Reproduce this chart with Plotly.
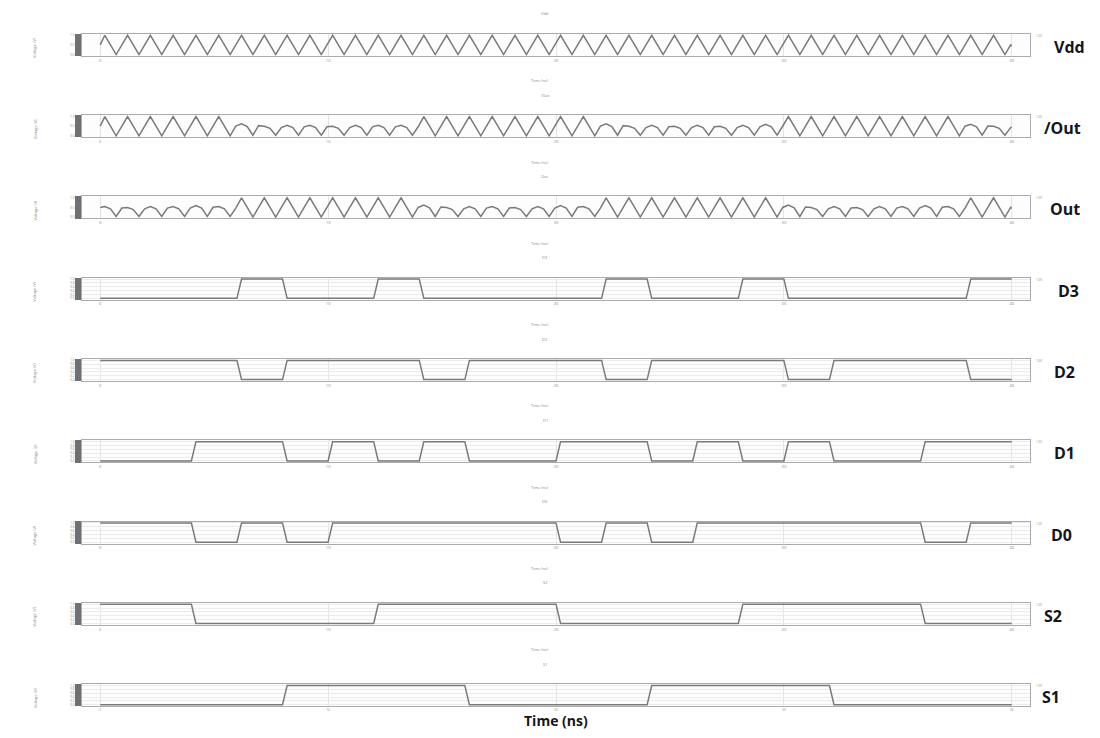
import plotly.graph_objects as go

# ---------------- data ----------------
panel_names = ["Vdd", "/Out", "Out", "D3", "D2", "D1", "D0", "S2", "S1"]
time_tick_ns = [0, 10, 20, 30, 40]
time_tick_text = ["0", "10", "20", "30", "40"]

# digital inputs: logic level in each 2 ns slot (0-40 ns)
d3_bits = [0, 0, 0, 1, 0, 0, 1, 0, 0, 0, 0, 1, 0, 0, 1, 0, 0, 0, 0, 1]
d2_bits = [1, 1, 1, 0, 1, 1, 1, 0, 1, 1, 1, 0, 1, 1, 1, 0, 1, 1, 1, 0]
d1_bits = [0, 0, 1, 1, 0, 1, 0, 1, 0, 0, 1, 1, 0, 1, 0, 1, 0, 0, 1, 1]
d0_bits = [1, 1, 0, 1, 0, 1, 1, 1, 1, 1, 0, 1, 0, 1, 1, 1, 1, 1, 0, 1]
s2_bits = [1, 1, 0, 0, 0, 0, 1, 1, 1, 1, 0, 0, 0, 0, 1, 1, 1, 1, 0, 0]
s1_bits = [0, 0, 0, 0, 1, 1, 1, 1, 0, 0, 0, 0, 1, 1, 1, 1, 0, 0, 0, 0]

# oscillating supply / outputs: peak level of each 1 ns cycle (0-40 ns)
vdd_peak = [1.0, 1.0, 1.0, 1.0, 1.0, 1.0, 1.0, 1.0, 1.0, 1.0,
            1.0, 1.0, 1.0, 1.0, 1.0, 1.0, 1.0, 1.0, 1.0, 1.0,
            1.0, 1.0, 1.0, 1.0, 1.0, 1.0, 1.0, 1.0, 1.0, 1.0,
            1.0, 1.0, 1.0, 1.0, 1.0, 1.0, 1.0, 1.0, 1.0, 1.0]
nout_peak = [1.0, 1.0, 1.0, 1.0, 1.0, 1.0, 0.62, 0.5, 0.55, 0.55,
             0.5, 0.55, 0.55, 0.55, 1.0, 1.0, 1.0, 1.0, 1.0, 1.0,
             1.0, 1.0, 0.62, 0.5, 0.55, 0.5, 0.55, 0.5, 0.55, 0.6,
             1.0, 1.0, 1.0, 1.0, 1.0, 1.0, 1.0, 1.0, 0.6, 0.5]
out_peak = [0.55, 0.5, 0.55, 0.55, 0.6, 0.55, 1.0, 1.0, 1.0, 1.0,
            1.0, 1.0, 1.0, 1.0, 0.62, 0.5, 0.55, 0.55, 0.5, 0.55,
            0.6, 0.55, 1.0, 1.0, 1.0, 1.0, 1.0, 1.0, 1.0, 1.0,
            0.62, 0.5, 0.55, 0.5, 0.55, 0.55, 0.6, 0.55, 1.0, 1.0]

SLOT = 2.0
EDGE = 0.2


def digital(bits):
    xs, ys = [0.0], [bits[0]]
    for k in range(1, len(bits)):
        if bits[k] != bits[k - 1]:
            t = k * SLOT
            xs += [t, t + EDGE]
            ys += [bits[k - 1], bits[k]]
    xs.append(len(bits) * SLOT)
    ys.append(bits[-1])
    return xs, ys


def analog(peaks):
    xs, ys = [0.0], [0.5]
    for k, p in enumerate(peaks):
        if p > 0.8:   # full swing, pointed
            seq = [(0.2, p), (0.45, 0.5 * p), (0.7, 0.0), (0.95, 0.5 * p)]
        else:         # reduced, rounded hump
            seq = [(0.2, p), (0.45, 0.78 * p), (0.7, 0.03), (0.95, 0.85 * p)]
        for dt, v in seq:
            xs.append(k + dt)
            ys.append(v)
    xs.append(float(len(peaks)))
    ys.append(0.45)
    return xs, ys


series = [analog(vdd_peak), analog(nout_peak), analog(out_peak),
          digital(d3_bits), digital(d2_bits), digital(d1_bits),
          digital(d0_bits), digital(s2_bits), digital(s1_bits)]

# ---------------- layout ----------------
PAGE_W, PAGE_H = 1100, 738
BODY = 8                       # default page margin around the plot div
W, H = PAGE_W - 2 * BODY, PAGE_H - 2 * BODY
X0, X1 = 82, 1030
TOP0, STEP, PH = 33, 81.5, 22
label_x = [1052, 1042, 1048, 1056, 1052, 1052, 1049, 1042, 1040]

fig = go.Figure()
ann = []


def px(v):
    return (v - BODY) / W


def py(v):
    return 1 - (v - BODY) / H


def note(x, y, text, size, color="#888", xanchor="center", angle=0, family=None):
    f = dict(size=size, color=color)
    if family:
        f["family"] = family
    ann.append(dict(x=px(x), y=py(y), xref="paper", yref="paper", text=text,
                    showarrow=False, xanchor=xanchor, yanchor="middle",
                    textangle=angle, font=f))


for i, (xs, ys) in enumerate(series):
    n = "" if i == 0 else str(i + 1)
    top = TOP0 + STEP * i
    bot = top + PH
    last = i == len(series) - 1
    fig.add_trace(go.Scatter(x=xs, y=ys, mode="lines",
                             line=dict(color="#7a7a7a", width=1.5),
                             xaxis="x" + n, yaxis="y" + n,
                             showlegend=False, hoverinfo="skip"))
    analog_panel = i < 3
    fig.update_layout(**{
        "xaxis" + n: dict(domain=[px(X0), px(X1)], anchor="y" + n,
                          range=[-0.8, 40.8], tickvals=time_tick_ns,
                          ticktext=time_tick_text,
                          tickfont=dict(size=3 if last else 4, color="#888"),
                          ticks="", showgrid=True, gridcolor="#e4e4e4",
                          gridwidth=1, zeroline=False, showline=True,
                          mirror=True, linecolor="#ababab", linewidth=1),
        "yaxis" + n: dict(domain=[py(bot), py(top)], anchor="x" + n,
                          range=[-0.07, 1.07],
                          tickvals=[0, 0.5, 1.0] if analog_panel else [0, 0.2, 0.4, 0.6, 0.8, 1.0],
                          ticktext=["0.0", "0.5", "1.0"] if analog_panel else ["0.0", "0.2", "0.4", "0.6", "0.8", "1.0"],
                          tickfont=dict(size=3, color="#888"),
                          ticks="outside", ticklen=6, tickcolor="#707070",
                          tickwidth=1,
                          minor=dict(ticks="outside", ticklen=6,
                                     tickcolor="#707070", dtick=0.03,
                                     showgrid=False),
                          showgrid=not analog_panel, gridcolor="#ececec",
                          zeroline=False, showline=True, mirror=True,
                          linecolor="#ababab", linewidth=1),
    })
    # right-hand signal label
    note(label_x[i], top + PH / 2 + 2, "<b>" + panel_names[i] + "</b>", 16,
         color="#151520", xanchor="left", family="Open Sans")
    # tiny axis title on the left
    note(35, top + PH / 2 + 3, "Voltage (V)", 4, angle=-90)
    # tiny panel title
    note(545, top - 20, panel_names[i], 4)
    # tiny top-right unit label
    note(1034, top + 2, "1.0V", 3, xanchor="left")
    if not last:
        note(540, bot + 25, "Time (ns)", 4)

note(556, 721.5, "<b>Time (ns)</b>", 14, color="#151520", family="Open Sans")

fig.update_layout(width=W, height=H, autosize=False,
                  margin=dict(l=0, r=0, t=0, b=0, pad=0),
                  paper_bgcolor="white", plot_bgcolor="#fdfdfd",
                  annotations=ann, showlegend=False)

fig.write_html("out.html")
